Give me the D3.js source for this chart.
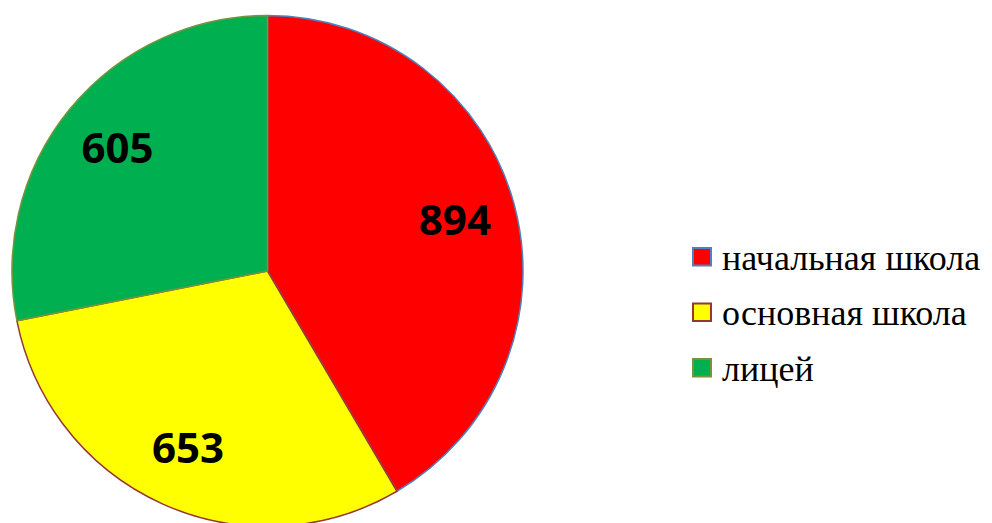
<!DOCTYPE html>
<html><head><meta charset="utf-8">
<script src="https://cdn.jsdelivr.net/npm/d3@7"></script>
<style>html,body{margin:0;padding:0;background:#fff;overflow:hidden}</style>
</head><body>
<svg id="c" width="992" height="523"></svg>
<script>
const categories = ["начальная школа", "основная школа", "лицей"];
const values = [894, 653, 605];
const fills = ["#FF0000", "#FFFF00", "#00B050"];
const strokes = ["#4F81BD", "#953735", "#77933C"];

const svg = d3.select("#c");
const cx = 267.5, cy = 271, r = 255.5;
const pie = d3.pie().sort(null).value(d => d)(values);
const arc = d3.arc().innerRadius(0).outerRadius(r);
const labelArc = d3.arc().innerRadius(r * 0.76).outerRadius(r * 0.76);
const g = svg.append("g").attr("transform", `translate(${cx},${cy})`);
g.selectAll("path").data(pie).join("path")
  .attr("d", arc)
  .attr("fill", (d, i) => fills[i])
  .attr("stroke", (d, i) => strokes[i])
  .attr("stroke-width", 1.5)
  .attr("stroke-linejoin", "round");
g.selectAll("text").data(pie).join("text")
  .attr("transform", d => `translate(${labelArc.centroid(d)})`)
  .attr("text-anchor", "middle")
  .attr("dy", "0.36em")
  .style("font-family", "'Open Sans', sans-serif")
  .attr("font-weight", "bold")
  .attr("font-size", 42)
  .attr("fill", "#000")
  .text(d => d.data);

const lg = svg.append("g").attr("transform", "translate(692,248)");
const row = lg.selectAll("g").data(categories).join("g")
  .attr("transform", (d, i) => `translate(0,${i * 55.5})`);
row.append("rect").attr("x", 1).attr("y", 0).attr("width", 18).attr("height", 17.5)
  .attr("fill", (d, i) => fills[i]).attr("stroke", (d, i) => strokes[i]).attr("stroke-width", 2);
row.append("text").attr("x", 30).attr("y", 21.5)
  .style("font-family", "'Liberation Serif', 'Times New Roman', serif")
  .attr("font-size", 36).attr("fill", "#000")
  .text(d => d);
</script>
</body></html>
